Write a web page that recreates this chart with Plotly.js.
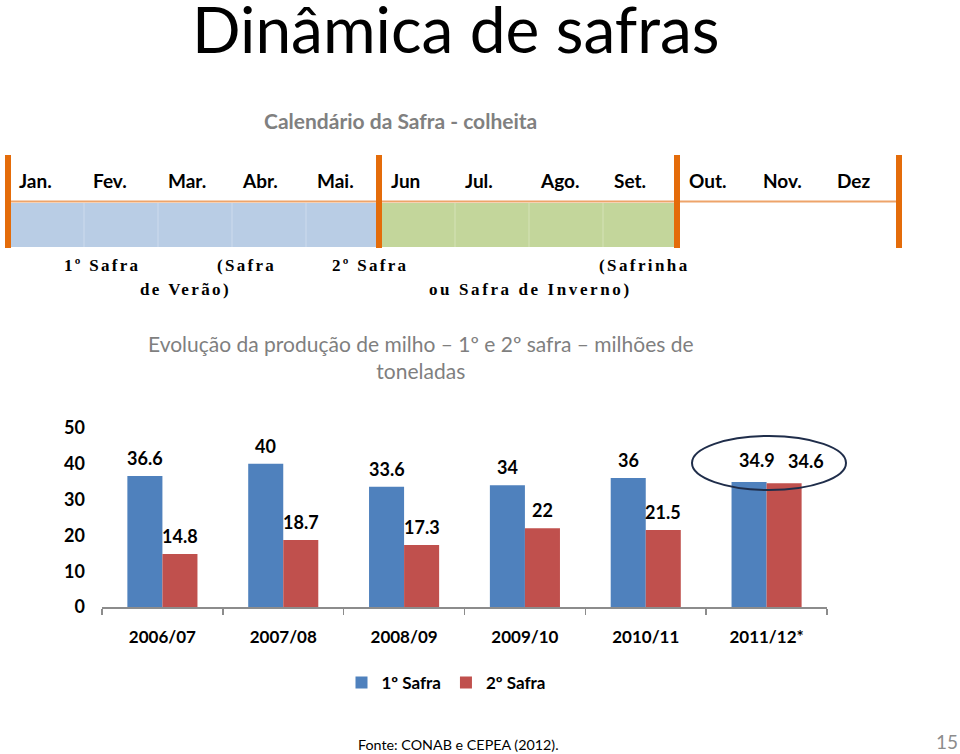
<!DOCTYPE html>
<html>
<head>
<meta charset="utf-8">
<script src="https://cdn.plot.ly/plotly-3.0.1.min.js"></script>
<style>
html,body{margin:0;padding:0;background:#fff;}
#chart{width:960px;height:754px;}
</style>
</head>
<body>
<div id="chart"></div>
<script>
// ---- data ----
const seasons = ["2006/07", "2007/08", "2008/09", "2009/10", "2010/11", "2011/12*"];
const safra1 = [36.6, 40, 33.6, 34, 36, 34.9];
const safra2 = [14.8, 18.7, 17.3, 22, 21.5, 34.6];
const seriesNames = ["1º Safra", "2º Safra"];
const months = ["Jan.", "Fev.", "Mar.", "Abr.", "Mai.", "Jun", "Jul.", "Ago.", "Set.", "Out.", "Nov.", "Dez"];
const yTicks = [0, 10, 20, 30, 40, 50];

// ---- helpers: pixel -> paper ----
const W = 960, H = 754;
const X = p => p / W;
const Y = p => 1 - p / H;

const BLUE = "#4f81bd", RED = "#c0504d", ORANGE = "#e46c0a";
const SANS = "Lato, Carlito, Calibri, 'Open Sans', sans-serif";
const SERIF = "'Liberation Serif', 'Times New Roman', serif";

const dataLabelFont = {family: SANS, size: 18, color: "#000", weight: "bold"};

const traces = [
  {type: "bar", name: seriesNames[0], x: seasons, y: safra1, marker: {color: BLUE}, hoverinfo: "skip"},
  {type: "bar", name: seriesNames[1], x: seasons, y: safra2, marker: {color: RED}, hoverinfo: "skip"}
];

const shapes = [];
const annotations = [];

// data labels (drawn on data coordinates)
seasons.forEach((s, i) => {
  const close = Math.abs(safra1[i] - safra2[i]) < 3;   // labels would collide -> spread apart
  annotations.push({text: String(safra1[i]), xref: "x", yref: "y", x: s, y: safra1[i],
    xanchor: "center", yanchor: "bottom", showarrow: false, yshift: close ? 9 : 5,
    xshift: close ? -9.5 : -17.5, font: dataLabelFont});
  annotations.push({text: String(safra2[i]), xref: "x", yref: "y", x: s, y: safra2[i],
    xanchor: "center", yanchor: "bottom", showarrow: false, yshift: close ? 9 : 5,
    xshift: close ? 39 : 17.5, font: dataLabelFont});
});

// calendar rectangles
shapes.push({type: "rect", xref: "paper", yref: "paper", x0: X(11), x1: X(378), y0: Y(247), y1: Y(203),
  fillcolor: "#b9cde5", line: {width: 0}, layer: "below"});
shapes.push({type: "rect", xref: "paper", yref: "paper", x0: X(380), x1: X(676), y0: Y(247), y1: Y(203),
  fillcolor: "#c3d69b", line: {width: 0}, layer: "below"});
// faint cell separators
[84, 158, 232, 306, 455, 529, 603].forEach(px => {
  shapes.push({type: "line", xref: "paper", yref: "paper", x0: X(px), x1: X(px), y0: Y(247), y1: Y(203),
    line: {color: "rgba(255,255,255,0.3)", width: 1}});
});
// horizontal orange line
shapes.push({type: "line", xref: "paper", yref: "paper", x0: X(8), x1: X(900), y0: Y(201.5), y1: Y(201.5),
  line: {color: "#eea46a", width: 2}});
// orange vertical bars
[8, 379, 677, 899].forEach(px => {
  shapes.push({type: "line", xref: "paper", yref: "paper", x0: X(px), x1: X(px), y0: Y(155), y1: Y(248),
    line: {color: ORANGE, width: 6}});
});
// ellipse highlight
shapes.push({type: "circle", xref: "paper", yref: "paper", x0: X(692), x1: X(846), y0: Y(490), y1: Y(436),
  line: {color: "#1f2d4a", width: 2}, fillcolor: "rgba(0,0,0,0)"});

// title
annotations.push({text: "Dinâmica de safras", xref: "paper", yref: "paper", x: X(455), y: Y(29),
  xanchor: "center", yanchor: "middle", showarrow: false,
  font: {family: SANS, size: 64, color: "#000"}});
annotations.push({text: "Calendário da Safra - colheita", xref: "paper", yref: "paper", x: X(400), y: Y(120),
  xanchor: "center", yanchor: "middle", showarrow: false,
  font: {family: SANS, size: 21, color: "#808080", weight: "bold"}});
// months
months.forEach((m, i) => {
  annotations.push({text: m, xref: "paper", yref: "paper", x: X(17 + i * 74.4), y: Y(180),
    xanchor: "left", yanchor: "middle", showarrow: false, align: "left",
    font: {family: SANS, size: 19, color: "#000", weight: "bold"}});
});
// serif season descriptions
const serifTexts = [
  ["1º Safra", 62, 265], ["(Safra", 215, 265], ["2º Safra", 330, 265], ["(Safrinha", 597, 265],
  ["de Verão)", 138, 289], ["ou Safra de Inverno)", 427, 289]
];
const serifStart = annotations.length;
serifTexts.forEach(t => {
  annotations.push({text: t[0], xref: "paper", yref: "paper", x: X(t[1]), y: Y(t[2]),
    xanchor: "left", yanchor: "middle", showarrow: false, align: "left",
    font: {family: SERIF, size: 17, color: "#000", weight: "bold"}});
});
const serifEnd = annotations.length;
// chart title
annotations.push({text: "Evolução da produção de milho – 1º e 2º safra – milhões de<br>toneladas",
  xref: "paper", yref: "paper", x: X(421), y: Y(357), xanchor: "center", yanchor: "middle",
  showarrow: false, align: "center",
  font: {family: SANS, size: 21, color: "#7f7f7f"}});
// footer
annotations.push({text: "Fonte: CONAB e CEPEA (2012).", xref: "paper", yref: "paper", x: X(356), y: Y(744),
  xanchor: "left", yanchor: "middle", showarrow: false, align: "left",
  font: {family: SANS, size: 14.3, color: "#000"}});
annotations.push({text: "15", xref: "paper", yref: "paper", x: X(960), y: Y(741),
  xanchor: "right", yanchor: "middle", showarrow: false,
  font: {family: SANS, size: 19, color: "#8c8c8c"}});

const layout = {
  width: W, height: H,
  margin: {l: 0, r: 0, t: 0, b: 0},
  paper_bgcolor: "#fff", plot_bgcolor: "#fff",
  barmode: "group", bargap: 0.42, bargroupgap: 0,
  showlegend: true,
  legend: {orientation: "h", x: X(446), y: Y(683), xanchor: "center", yanchor: "middle",
    font: {family: SANS, size: 17, color: "#000", weight: "bold"}, itemwidth: 30, traceorder: "normal"},
  xaxis: {
    domain: [X(102), X(827)], range: [-0.5, 5.5], type: "category",
    showline: true, linecolor: "#8c8c8c", linewidth: 1.5,
    ticks: "outside", tickson: "boundaries", ticklen: 6, tickcolor: "#8c8c8c", tickwidth: 1.5,
    tickfont: {family: SANS, size: 17, color: "#000", weight: "bold"},
    ticklabelstandoff: 14, showgrid: false, zeroline: false, fixedrange: true
  },
  yaxis: {
    domain: [Y(607), Y(428)], range: [0, 50], tickvals: yTicks,
    showline: false, showgrid: false, zeroline: false, ticks: "",
    tickfont: {family: SANS, size: 18, color: "#000", weight: "bold"},
    ticklabelstandoff: 16, fixedrange: true
  },
  shapes: shapes,
  annotations: annotations
};

const spacing = {"1º Safra": 2.3, "(Safra": 2.3, "2º Safra": 2.3, "(Safrinha": 2.4, "de Verão)": 2.4, "ou Safra de Inverno)": 2.6};

Plotly.newPlot("chart", traces, layout, {staticPlot: true, displayModeBar: false}).then(gd => {
  gd.querySelectorAll("g.annotation").forEach(n => {
    const idx = +n.getAttribute("data-index");
    if (idx >= serifStart && idx < serifEnd) {
      const ls = spacing[serifTexts[idx - serifStart][0]];
      n.querySelectorAll("text").forEach(t => t.setAttribute("letter-spacing", ls + "px"));
    }
  });
});
</script>
</body>
</html>
